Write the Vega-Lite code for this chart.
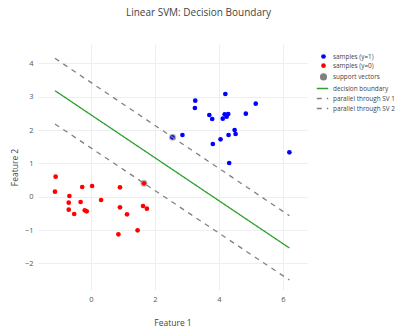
{
  "$schema": "https://vega.github.io/schema/vega-lite/v6.json",
  "autosize": {"type": "none"},
  "width": 269,
  "height": 246,
  "padding": {"left": 38, "top": 44, "right": 88, "bottom": 38},
  "background": "white",
  "config": {
    "font": "Open Sans",
    "view": {"stroke": null},
    "axis": {
      "domain": false,
      "ticks": false,
      "gridColor": "#ebeef3",
      "gridWidth": 1,
      "labelFont": "Open Sans",
      "labelFontSize": 7.5,
      "labelColor": "#555",
      "titleFont": "Open Sans",
      "titleFontSize": 8.5,
      "titleFontWeight": "normal",
      "titleColor": "#444"
    },
    "legend": {
      "labelFont": "Open Sans",
      "labelFontSize": 6.4,
      "labelColor": "#444"
    }
  },
  "title": {
    "text": "Linear SVM: Decision Boundary",
    "fontSize": 10,
    "fontWeight": "normal",
    "color": "#444",
    "font": "Open Sans",
    "anchor": "middle",
    "dx": 26,
    "offset": 26
  },
  "data": {
    "values": [
      {"x": 4.20, "y": 3.08, "series": "samples (y=1)"},
      {"x": 3.26, "y": 2.88, "series": "samples (y=1)"},
      {"x": 3.25, "y": 2.66, "series": "samples (y=1)"},
      {"x": 5.15, "y": 2.79, "series": "samples (y=1)"},
      {"x": 4.84, "y": 2.49, "series": "samples (y=1)"},
      {"x": 3.70, "y": 2.45, "series": "samples (y=1)"},
      {"x": 3.79, "y": 2.33, "series": "samples (y=1)"},
      {"x": 4.18, "y": 2.47, "series": "samples (y=1)"},
      {"x": 4.29, "y": 2.48, "series": "samples (y=1)"},
      {"x": 4.24, "y": 2.40, "series": "samples (y=1)"},
      {"x": 4.12, "y": 2.34, "series": "samples (y=1)"},
      {"x": 4.49, "y": 2.00, "series": "samples (y=1)"},
      {"x": 4.52, "y": 1.88, "series": "samples (y=1)"},
      {"x": 4.30, "y": 1.85, "series": "samples (y=1)"},
      {"x": 2.86, "y": 1.85, "series": "samples (y=1)"},
      {"x": 4.05, "y": 1.72, "series": "samples (y=1)"},
      {"x": 3.81, "y": 1.58, "series": "samples (y=1)"},
      {"x": 6.20, "y": 1.33, "series": "samples (y=1)"},
      {"x": 4.32, "y": 1.01, "series": "samples (y=1)"},
      {"x": 2.55, "y": 1.78, "series": "samples (y=1)"},
      {"x": -1.10, "y": 0.60, "series": "samples (y=0)"},
      {"x": -1.12, "y": 0.15, "series": "samples (y=0)"},
      {"x": -0.27, "y": 0.29, "series": "samples (y=0)"},
      {"x": 0.04, "y": 0.32, "series": "samples (y=0)"},
      {"x": 0.91, "y": 0.28, "series": "samples (y=0)"},
      {"x": -0.67, "y": 0.02, "series": "samples (y=0)"},
      {"x": -0.69, "y": -0.18, "series": "samples (y=0)"},
      {"x": -0.32, "y": -0.16, "series": "samples (y=0)"},
      {"x": 0.32, "y": -0.10, "series": "samples (y=0)"},
      {"x": -0.69, "y": -0.39, "series": "samples (y=0)"},
      {"x": -0.52, "y": -0.52, "series": "samples (y=0)"},
      {"x": -0.19, "y": -0.41, "series": "samples (y=0)"},
      {"x": -0.13, "y": -0.44, "series": "samples (y=0)"},
      {"x": 0.91, "y": -0.32, "series": "samples (y=0)"},
      {"x": 1.13, "y": -0.53, "series": "samples (y=0)"},
      {"x": 1.63, "y": -0.28, "series": "samples (y=0)"},
      {"x": 1.75, "y": -0.36, "series": "samples (y=0)"},
      {"x": 1.46, "y": -1.01, "series": "samples (y=0)"},
      {"x": 0.86, "y": -1.13, "series": "samples (y=0)"},
      {"x": 1.66, "y": 0.40, "series": "samples (y=0)"},
      {"x": 2.55, "y": 1.78, "series": "support vectors"},
      {"x": 1.66, "y": 0.40, "series": "support vectors"},
      {"x": -1.12, "y": 3.18, "series": "decision boundary"},
      {"x": 6.20, "y": -1.54, "series": "decision boundary"},
      {"x": -1.12, "y": 4.15, "series": "parallel through SV 1"},
      {"x": 6.20, "y": -0.57, "series": "parallel through SV 1"},
      {"x": -1.12, "y": 2.18, "series": "parallel through SV 2"},
      {"x": 6.20, "y": -2.50, "series": "parallel through SV 2"}
    ]
  },
  "encoding": {
    "x": {
      "field": "x", "type": "quantitative",
      "scale": {"domain": [-1.65, 6.75], "nice": false, "zero": false},
      "axis": {"title": "Feature 1", "values": [0, 2, 4, 6], "labelPadding": 5, "titlePadding": 16}
    },
    "y": {
      "field": "y", "type": "quantitative",
      "scale": {"domain": [-2.8, 4.58], "nice": false, "zero": false},
      "axis": {"title": "Feature 2", "values": [-2, -1, 0, 1, 2, 3, 4], "labelPadding": 5, "titlePadding": 5}
    }
  },
  "layer": [
    {
      "transform": [{"filter": "datum.series == 'samples (y=1)' || datum.series == 'samples (y=0)' || datum.series == 'support vectors'"}],
      "encoding": {
        "fill": {
          "field": "series", "type": "nominal",
          "scale": {
            "domain": ["samples (y=1)", "samples (y=0)", "support vectors"],
            "range": ["#0000ff", "#ff0000", "#808080"]
          },
          "legend": {
            "title": null,
            "orient": "none",
            "legendX": 281,
            "legendY": 9,
            "rowPadding": -1.8,
            "labelOffset": 5
          }
        },
        "size": {
          "field": "series", "type": "nominal",
          "scale": {
            "type": "ordinal",
            "domain": ["samples (y=1)", "samples (y=0)", "support vectors"],
            "range": [22, 22, 50]
          }
        },
        "opacity": {
          "condition": {"test": "datum.series == 'support vectors'", "value": 0.55},
          "value": 1
        },
        "order": {"field": "series", "sort": "descending"}
      },
      "mark": {"type": "point", "filled": true, "shape": "circle", "strokeWidth": 0}
    },
    {
      "transform": [{"filter": "datum.series == 'decision boundary' || datum.series == 'parallel through SV 1' || datum.series == 'parallel through SV 2'"}],
      "encoding": {
        "stroke": {
          "field": "series", "type": "nominal",
          "scale": {
            "domain": ["decision boundary", "parallel through SV 1", "parallel through SV 2"],
            "range": ["#2ca02c", "#808080", "#808080"]
          },
          "legend": {
            "title": null,
            "orient": "none",
            "legendX": 278,
            "legendY": 38,
            "rowPadding": 0,
            "labelOffset": 4,
            "symbolSize": 130,
            "symbolStrokeWidth": 1.3
          }
        },
        "strokeDash": {
          "field": "series", "type": "nominal",
          "scale": {
            "domain": ["decision boundary", "parallel through SV 1", "parallel through SV 2"],
            "range": [[1, 0], [5, 5], [5, 5]]
          }
        }
      },
      "mark": {"type": "line", "strokeWidth": 1.3}
    }
  ]
}
